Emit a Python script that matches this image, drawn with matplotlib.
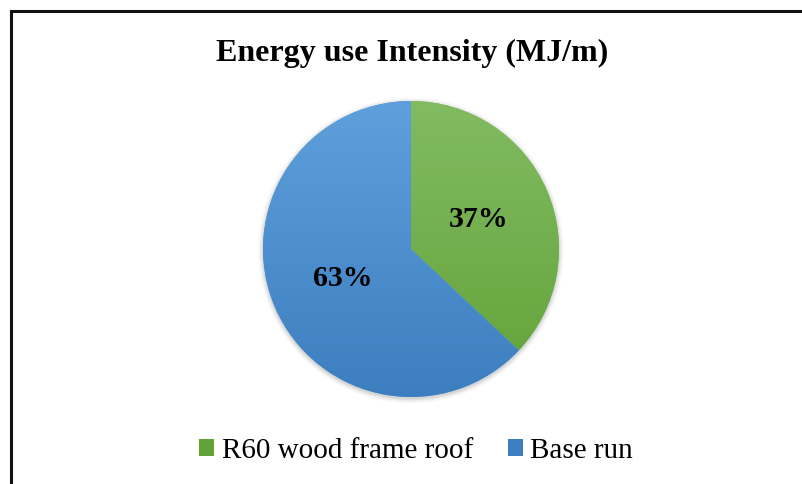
import numpy as np
import matplotlib
matplotlib.use("Agg")
import matplotlib.pyplot as plt
from matplotlib.colors import LinearSegmentedColormap
from matplotlib.lines import Line2D
from matplotlib.patches import Patch, Circle

labels = ["R60 wood frame roof", "Base run"]
values = [37, 63]
top_colors = ["#82bb62", "#5e9fdc"]
bottom_colors = ["#62a238", "#3d7ec0"]
title = "Energy use Intensity (MJ/m)"

W, H = 802, 484
fig = plt.figure(figsize=(W / 100, H / 100), dpi=100)
fig.patch.set_facecolor("white")
plt.rcParams["font.family"] = ["Liberation Serif", "DejaVu Serif"]

# chart frame (left and top edges)
fx, fy = 10.5 / W, 1 - 11 / H
fig.add_artist(Line2D([fx, fx, 1.0], [0.0, fy, fy], transform=fig.transFigure,
                      color="#111111", lw=2.2, solid_joinstyle="miter"))

cx, cy, r = 411, 249, 148
ax = fig.add_axes([(cx - r) / W, (H - cy - r) / H, 2 * r / W, 2 * r / H])
ax.set_xlim(-1, 1)
ax.set_ylim(-1, 1)
ax.axis("off")

# soft shadow around the pie
for k, a in zip(np.linspace(1.035, 1.004, 6), np.linspace(0.012, 0.045, 6)):
    ax.add_patch(Circle((0.0, -0.01), k, color="black", alpha=a, lw=0,
                        zorder=0, clip_on=False))

wedges, texts, autotexts = ax.pie(
    values, startangle=90, counterclock=False, radius=1,
    colors=top_colors, autopct="%1.0f%%", pctdistance=0.5,
    wedgeprops=dict(linewidth=0),
    textprops=dict(fontsize=21.5, fontweight="bold", color="black"),
)
ax.set_xlim(-1, 1)
ax.set_ylim(-1, 1)

grad = np.linspace(0, 1, 256).reshape(-1, 1)
for w, ct, cb in zip(wedges, top_colors, bottom_colors):
    cmap = LinearSegmentedColormap.from_list("g", [ct, cb])
    im = ax.imshow(grad, cmap=cmap, extent=[-1, 1, -1, 1], origin="upper",
                   aspect="auto", zorder=1)
    im.set_clip_path(w)
for t in autotexts:
    t.set_zorder(3)

fig.text(412 / W, 1 - 53 / H, title, ha="center", va="center",
         fontsize=23, fontweight="bold")

handles = [Patch(facecolor=bottom_colors[i], edgecolor="none") for i in range(2)]
fig.legend(handles, labels, loc="center", bbox_to_anchor=(416 / W, 1 - 451 / H),
           ncol=2, frameon=False, fontsize=21, handlelength=0.52,
           handleheight=0.52, handletextpad=0.25, columnspacing=1.2)

fig.savefig("out.png", dpi=100)
